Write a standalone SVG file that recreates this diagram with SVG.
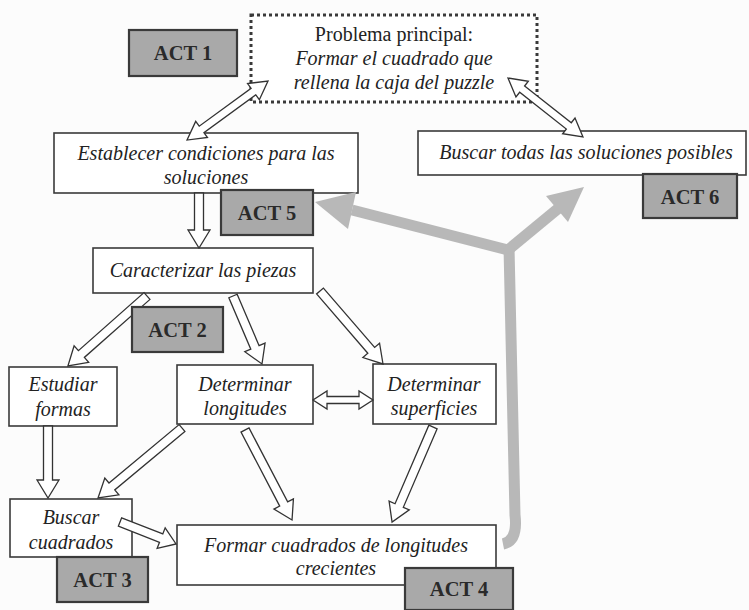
<svg xmlns="http://www.w3.org/2000/svg" width="749" height="610" viewBox="0 0 749 610">
<style>
.bg{fill:#fcfcfc}
.box{fill:#ffffff;stroke:#3a3a3a;stroke-width:1.6}
.dot{fill:#ffffff;stroke:#3a3a3a;stroke-width:3;stroke-dasharray:3 3}
.act{fill:#a9a9a9;stroke:#3a3a3a;stroke-width:2.2}
.t{font-family:"Liberation Serif","Times New Roman",serif;font-size:20px;fill:#222;text-anchor:middle}
.i{font-style:italic}
.a{font-family:"Liberation Serif","Times New Roman",serif;font-size:20.5px;font-weight:bold;fill:#2a2a2a;text-anchor:middle}
.ha{fill:#ffffff;stroke:#333;stroke-width:1.3;stroke-linejoin:miter}
.g{fill:none;stroke:#b8b8b8;stroke-width:11}
.gh{fill:#b8b8b8}
</style>
<rect class="bg" x="0" y="0" width="749" height="610"/>
<g id="problema">
  <rect class="dot" x="251" y="15" width="286" height="87"/>
  <text class="t" x="394" y="41">Problema principal:</text>
  <text class="t i" x="394" y="65">Formar el cuadrado que</text>
  <text class="t i" x="394" y="89">rellena la caja del puzzle</text>
</g>
<g id="establecer">
  <rect class="box" x="54" y="133" width="304" height="60"/>
  <text class="t i" x="206" y="160">Establecer condiciones para las</text>
  <text class="t i" x="206" y="184">soluciones</text>
</g>
<g id="buscar-todas">
  <rect class="box" x="418" y="131" width="328" height="44"/>
  <text class="t i" x="586" y="159">Buscar todas las soluciones posibles</text>
</g>
<g id="caracterizar">
  <rect class="box" x="93" y="248" width="220" height="45"/>
  <text class="t i" x="203" y="277">Caracterizar las piezas</text>
</g>
<g id="estudiar">
  <rect class="box" x="9" y="367" width="108" height="59"/>
  <text class="t i" x="63" y="391">Estudiar</text>
  <text class="t i" x="63" y="416">formas</text>
</g>
<g id="longitudes">
  <rect class="box" x="177" y="365" width="136" height="59"/>
  <text class="t i" x="245" y="391">Determinar</text>
  <text class="t i" x="245" y="415">longitudes</text>
</g>
<g id="superficies">
  <rect class="box" x="373" y="364" width="123" height="60"/>
  <text class="t i" x="434" y="391">Determinar</text>
  <text class="t i" x="434" y="415">superficies</text>
</g>
<g id="buscar-cuadrados">
  <rect class="box" x="10" y="499" width="122" height="58"/>
  <text class="t i" x="71" y="524">Buscar</text>
  <text class="t i" x="71" y="549">cuadrados</text>
</g>
<g id="formar">
  <rect class="box" x="177" y="525" width="319" height="60"/>
  <text class="t i" x="336" y="552">Formar cuadrados de longitudes</text>
  <text class="t i" x="336" y="575">crecientes</text>
</g>
<g id="connectors">
  <path class="g" d="M508,250 L352,210"/>
  <polygon class="gh" points="315,202 356,192 348,229"/>
  <path class="g" d="M508,250 L560,207"/>
  <polygon class="gh" points="584,187 546,196 568,222"/>
  <path class="g" stroke-width="12" d="M509,247 L515,515 Q518,541 503,544"/>
  <path class="ha" transform="translate(268,81) rotate(143.9)" d="M18,-4 L82.2,-4 L82.2,-10 L100.2,0 L82.2,10 L82.2,4 L18,4 L18,10 L0,0 L18,-10 Z"/>
  <path class="ha" transform="translate(508,78) rotate(38.2)" d="M18,-4 L77.4,-4 L77.4,-10 L95.4,0 L77.4,10 L77.4,4 L18,4 L18,10 L0,0 L18,-10 Z"/>
  <path class="ha" transform="translate(199,193) rotate(90)" d="M0,-4.5 L37,-4.5 L37,-11 L55,0 L37,11 L37,4.5 L0,4.5 Z"/>
  <path class="ha" transform="translate(147,296) rotate(138.5)" d="M0,-4.5 L87.6,-4.5 L87.6,-11 L105.6,0 L87.6,11 L87.6,4.5 L0,4.5 Z"/>
  <path class="ha" transform="translate(233,296) rotate(66.9)" d="M0,-4.5 L55.9,-4.5 L55.9,-11 L73.9,0 L55.9,11 L55.9,4.5 L0,4.5 Z"/>
  <path class="ha" transform="translate(320,291) rotate(49.2)" d="M0,-4.5 L78.4,-4.5 L78.4,-11 L96.4,0 L78.4,11 L78.4,4.5 L0,4.5 Z"/>
  <path class="ha" transform="translate(313,400) rotate(0)" d="M14,-3.5 L46,-3.5 L46,-9 L60,0 L46,9 L46,3.5 L14,3.5 L14,9 L0,0 L14,-9 Z"/>
  <path class="ha" transform="translate(48,426) rotate(90)" d="M0,-4.5 L54,-4.5 L54,-11 L72,0 L54,11 L54,4.5 L0,4.5 Z"/>
  <path class="ha" transform="translate(182,428) rotate(140.2)" d="M0,-4.5 L91.3,-4.5 L91.3,-11 L109.3,0 L91.3,11 L91.3,4.5 L0,4.5 Z"/>
  <path class="ha" transform="translate(245,430) rotate(62.4)" d="M0,-4.5 L83.5,-4.5 L83.5,-11 L101.5,0 L83.5,11 L83.5,4.5 L0,4.5 Z"/>
  <path class="ha" transform="translate(433,427) rotate(113.3)" d="M0,-4.5 L85.5,-4.5 L85.5,-11 L103.5,0 L85.5,11 L85.5,4.5 L0,4.5 Z"/>
  <path class="ha" transform="translate(120,522) rotate(21.4)" d="M0,-4.5 L44.2,-4.5 L44.2,-11 L60.2,0 L44.2,11 L44.2,4.5 L0,4.5 Z"/>
</g>
<g id="act1"><rect class="act" x="129" y="30" width="108" height="46"/><text class="a" x="183" y="60">ACT 1</text></g>
<g id="act2"><rect class="act" x="132" y="307" width="91" height="45"/><text class="a" x="177.5" y="337">ACT 2</text></g>
<g id="act3"><rect class="act" x="57" y="557" width="91" height="45"/><text class="a" x="102.5" y="587">ACT 3</text></g>
<g id="act4"><rect class="act" x="405" y="568" width="108" height="42"/><text class="a" x="459" y="596">ACT 4</text></g>
<g id="act5"><rect class="act" x="221" y="190" width="92" height="45"/><text class="a" x="267" y="220">ACT 5</text></g>
<g id="act6"><rect class="act" x="643" y="174" width="94" height="44"/><text class="a" x="690" y="204">ACT 6</text></g>
</svg>
